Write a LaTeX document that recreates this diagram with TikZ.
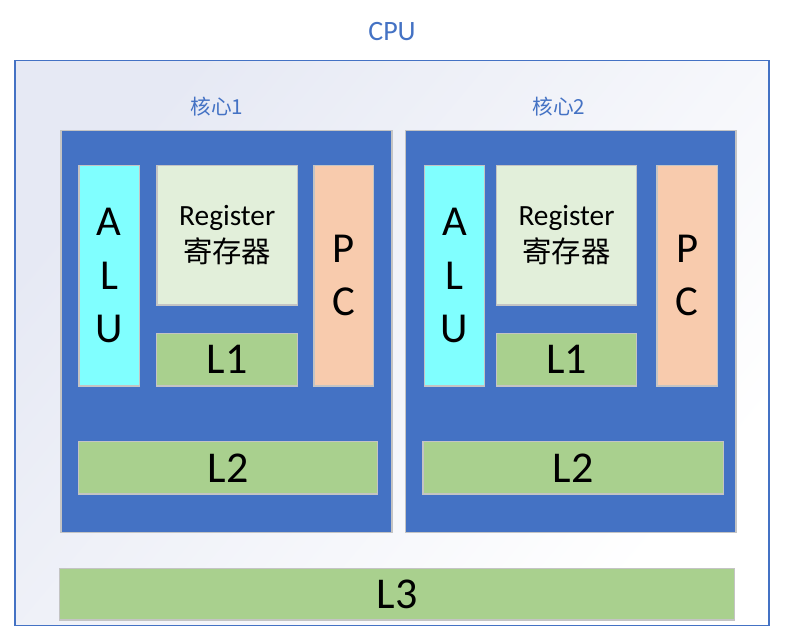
\documentclass[tikz,border=0pt]{standalone}
\usepackage{fontspec}
\setmainfont{Carlito}
\newfontfamily\cjk{Noto Sans CJK SC}
\definecolor{acc}{HTML}{4472C4}
\definecolor{bord}{HTML}{C4C4C4}
\definecolor{alucol}{HTML}{80FFFF}
\definecolor{regcol}{HTML}{E2EFDA}
\definecolor{pccol}{HTML}{F8CBAD}
\definecolor{cachecol}{HTML}{A9D08E}
\definecolor{bgtl}{HTML}{E6E9F4}
\tikzset{
  posbox/.style args={#1/#2/#3/#4}{at={(#1,#2)}, anchor=north west,
    minimum width={(#3-#1)*0.75pt}, minimum height={(#4-#2)*0.75pt},
    inner sep=0pt, outer sep=0pt, line width=0.9pt},
  corebox/.style={fill=acc, draw=bord},
  alubox/.style={fill=alucol, draw=bord, align=center, font=\fontsize{32}{40}\selectfont},
  regbox/.style={fill=regcol, draw=bord, align=center, font=\fontsize{22}{28}\selectfont},
  pcbox/.style={fill=pccol, draw=bord, align=center, font=\fontsize{32}{40}\selectfont},
  cachebox/.style={fill=cachecol, draw=bord, font=\fontsize{33}{40}\selectfont},
  corelabel/.style={text=acc, font=\cjk\fontsize{15.5}{18}\selectfont, inner sep=0pt},
}
\begin{document}
\begin{tikzpicture}[x=0.75pt,y=-0.75pt]
\useasboundingbox (0,0) rectangle (787,636);
% CPU frame
\node[posbox=15/60.5/769/625.5, draw=acc, shading=axis, top color=bgtl, bottom color=white, shading angle=50] (cpu) {};
\node[text=acc, font=\fontsize{21}{24}\selectfont, inner sep=0pt] (cpulabel) at (392,32) {CPU};
% Core 1
\node[posbox=61/130.5/392/532.5, corebox] (core1) {};
\node[corelabel] (core1label) at (217,107) {核心1};
\node[posbox=79/165.5/139.5/386, alubox] (alu1) {A\\L\\U};
\node[posbox=157/165.5/297.5/305, regbox] (reg1) {Register\\{\cjk 寄存器}};
\node[posbox=314/165.5/373.5/386, pcbox] (pc1) {P\\C};
\node[posbox=156.5/333.5/297.5/386, cachebox] (l1a) {L1};
\node[posbox=78.5/441.5/377.5/494, cachebox] (l2a) {L2};
% Core 2
\node[posbox=405.5/130.5/736/532.5, corebox] (core2) {};
\node[corelabel] (core2label) at (559,107) {核心2};
\node[posbox=424.5/165.5/484.5/386, alubox] (alu2) {A\\L\\U};
\node[posbox=496.5/165.5/636.5/305, regbox] (reg2) {Register\\{\cjk 寄存器}};
\node[posbox=657/165.5/717.5/386, pcbox] (pc2) {P\\C};
\node[posbox=496.5/333.5/636.5/386, cachebox] (l1b) {L1};
\node[posbox=423/441.5/723.5/494, cachebox] (l2b) {L2};
% L3
\node[posbox=59.5/568.5/734.5/620, cachebox] (l3) {L3};
\end{tikzpicture}
\end{document}
